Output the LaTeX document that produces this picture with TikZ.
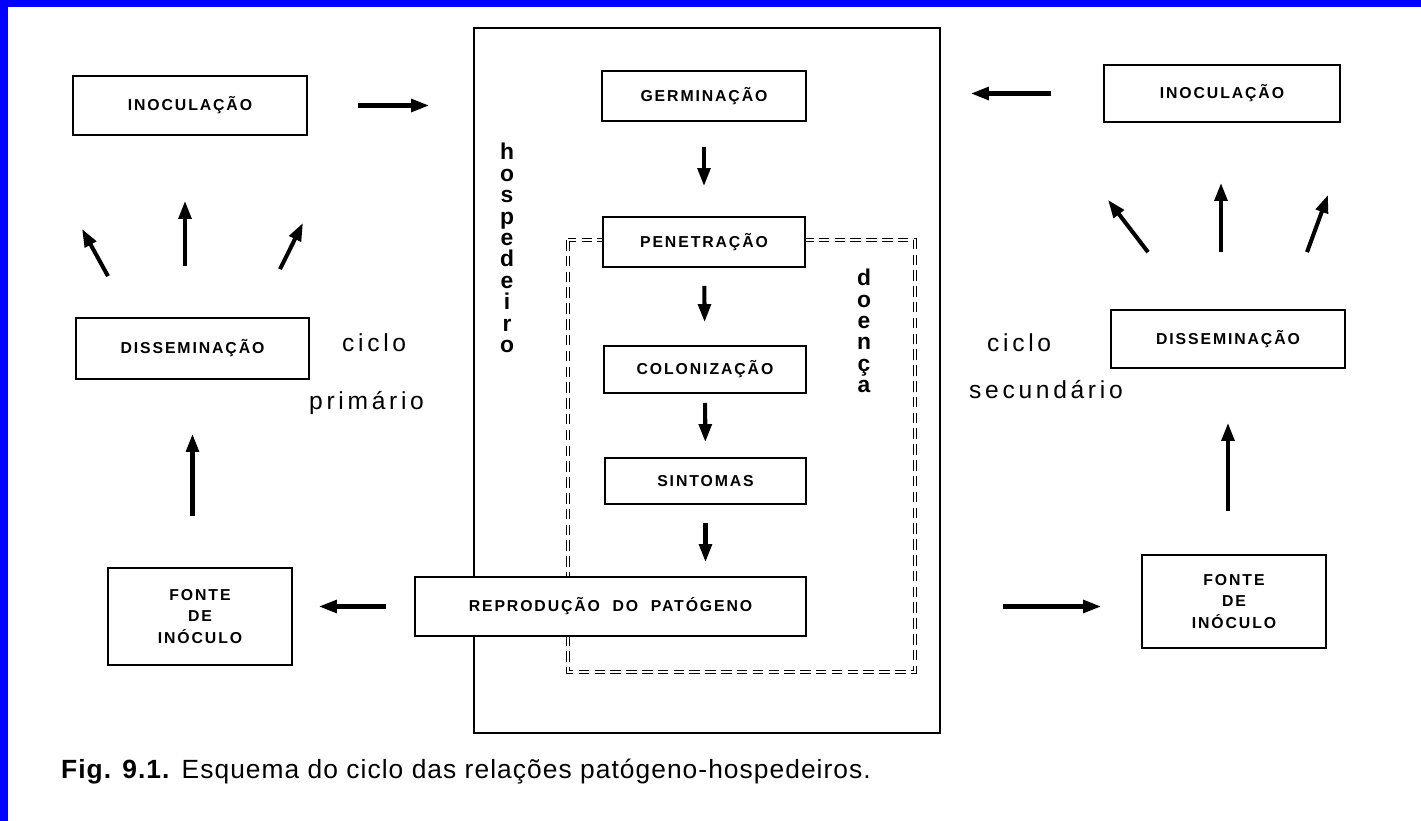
\documentclass[tikz,border=0pt]{standalone}
\usepackage{fontspec}
\setmainfont{Liberation Sans}
\newfontfamily\caixafont[LetterSpace=12]{Liberation Sans}
\newfontfamily\ciclofont[LetterSpace=15]{Liberation Sans}
\newfontfamily\legendafont[LetterSpace=4]{Liberation Sans}
\usetikzlibrary{arrows.meta}
\usetikzlibrary{calc,positioning}

\tikzset{
	caixa/.style={draw, fill=white, line width=1pt, inner sep=0pt, align=center,
		font=\caixafont\bfseries\fontsize{9}{12}\selectfont},
	seta/.style={line width=2.3pt, -{Triangle[length=0.36cm,width=0.25cm]}},
	vertical/.style={align=center, font=\bfseries\fontsize{13}{12.2}\selectfont},
	ciclo/.style={anchor=west, font=\ciclofont\fontsize{14}{16}\selectfont},
}

\begin{document}
\begin{tikzpicture}[x=0.02cm, y=-0.02cm]
	\useasboundingbox (0,0) rectangle (1421,821);
	\fill[blue] (0,0) rectangle (1421,7);
	\fill[blue] (0,0) rectangle (8,821);

% hospedeiro e doenca
	\node[draw, line width=1pt, minimum width=9.32cm, minimum height=14.1cm] (hosp) at (707,380.5) {};
	\draw[dashed, double, double distance=1.2pt, dash pattern=on 6pt off 3pt] (568,240) rectangle (915,672);
	\node[vertical] (hosptxt) at (507,248) {h\\o\\s\\p\\e\\d\\e\\i\\r\\o};
	\node[vertical] (doenca) at (864,331) {d\\o\\e\\n\\ç\\a};

% caixas do centro
	\node[caixa, minimum width=4.08cm, minimum height=1.0cm] (germ) at (704,96) {GERMINAÇÃO};
	\node[caixa, minimum width=4.04cm, minimum height=1.0cm] (pene) at (704,242) {PENETRAÇÃO};
	\node[caixa, minimum width=4.04cm, minimum height=0.94cm] (colo) at (705,369.5) {COLONIZAÇÃO};
	\node[caixa, minimum width=4.02cm, minimum height=0.92cm] (sint) at (705.5,481) {SINTOMAS};
	\node[caixa, minimum width=7.82cm, minimum height=1.18cm] (repro) at (610.5,606.5) {REPRODUÇÃO \ DO \ PATÓGENO};

% ciclo primario
	\node[caixa, minimum width=4.68cm, minimum height=1.18cm] (inocE) at (190,105.5) {INOCULAÇÃO};
	\node[caixa, minimum width=4.66cm, minimum height=1.22cm] (dissE) at (192.5,348.5) {DISSEMINAÇÃO};
	\node[caixa, minimum width=3.68cm, minimum height=1.94cm] (fonteE) at (200,616.5) {FONTE\\DE\\INÓCULO};
	\node[ciclo] (cicloE) at (336,343) {ciclo};
	\node[ciclo] (primario) at (303,403) {primário};

% ciclo secundario
	\node[caixa, minimum width=4.72cm, minimum height=1.14cm] (inocD) at (1222,93.5) {INOCULAÇÃO};
	\node[caixa, minimum width=4.68cm, minimum height=1.16cm] (dissD) at (1228,339) {DISSEMINAÇÃO};
	\node[caixa, minimum width=3.68cm, minimum height=1.86cm] (fonteD) at (1234,601.5) {FONTE\\DE\\INÓCULO};
	\node[ciclo] (cicloD) at (981,343) {ciclo};
	\node[ciclo] (secundario) at (963,390) {secundário};

% setas
	\draw[seta, shorten <=1cm, shorten >=0.88cm] (inocE.east) -- (inocE.east -| hosp.west);
	\draw[seta, shorten <=1.04cm, shorten >=0.6cm] (inocD.west) -- (inocD.west -| hosp.east);
	\draw[seta, shorten <=0.5cm, shorten >=0.6cm] (germ) -- (pene);
	\draw[seta, shorten <=0.36cm, shorten >=0.46cm] (pene) -- (colo);
	\draw[seta, shorten <=0.18cm, shorten >=0.3cm] (colo) -- (sint);
	\draw[seta, shorten <=0.36cm, shorten >=0.28cm] (sint.south) -- (sint.south |- repro.north);
	\draw[seta, shorten <=0.56cm, shorten >=0.52cm] (repro.west) -- (repro.west -| fonteE.east);
	\draw[seta, shorten <=3.92cm, shorten >=0.8cm] (repro.east) -- (repro.east -| fonteD.west);
	\draw[seta, shorten <=1.02cm, shorten >=1.08cm] (dissE.south |- fonteE.north) -- (dissE.south);
	\draw[seta, shorten <=0.86cm, shorten >=1.08cm] (dissD.south |- fonteD.north) -- (dissD.south);
	\foreach \a/\b/\c/\d in {-84.5/-41/-108/93, -7.5/-51/-5/65, 87.5/-48/113/87}
		\draw[seta] ([shift={(\a,\b)}]dissE.north) -- ([shift={(\c,\d)}]inocE.south);
	\foreach \a/\b/\c/\d in {-80/-57/-114/77, -7/-57/-1/60, 79/-57/106/72}
		\draw[seta] ([shift={(\a,\b)}]dissD.north) -- ([shift={(\c,\d)}]inocD.south);

% legenda
	\node[anchor=west, font=\legendafont\fontsize{15}{17}\selectfont] (legenda) at (55,772)
		{\textbf{Fig. 9.1.} Esquema do ciclo das relações patógeno-hospedeiros.};
\end{tikzpicture}
\end{document}
